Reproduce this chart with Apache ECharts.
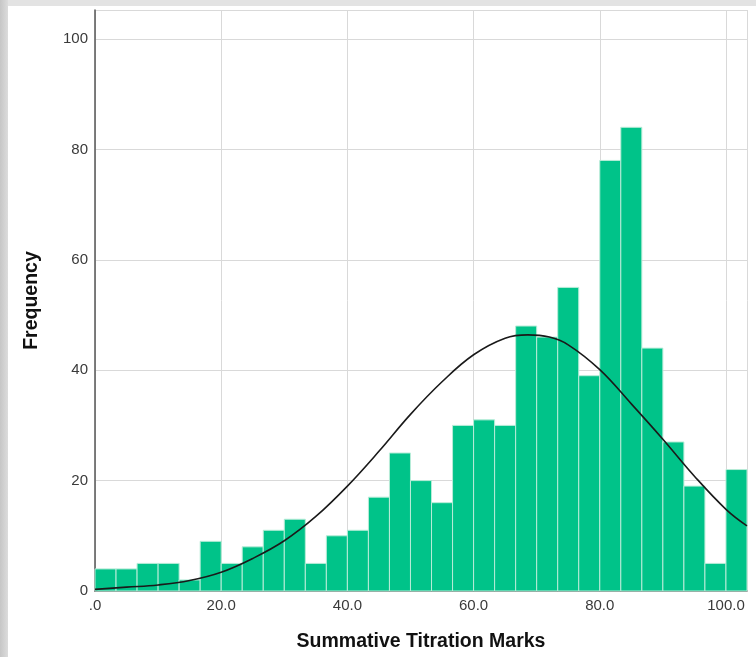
<!DOCTYPE html>
<html>
<head>
<meta charset="utf-8">
<script src="https://cdn.jsdelivr.net/npm/echarts@6/dist/echarts.min.js"></script>
<style>
  html, body { margin: 0; padding: 0; width: 756px; height: 657px; overflow: hidden; background: #e3e3e3; }
  #leftStrip { position: absolute; left: 0; top: 0; width: 8px; height: 657px; background: linear-gradient(to right, #c6c6c6, #dcdcdc); }
  #chart { position: absolute; left: 8px; top: 6px; width: 748px; height: 651px; background: #ffffff; }
</style>
</head>
<body>
<div id="leftStrip"></div>
<div id="chart"></div>
<script>
// Histogram: 31 bins of width 10/3 starting at 0
const binWidth = 10 / 3;
const frequencies = [4, 4, 5, 5, 2, 9, 5, 8, 11, 13, 5, 10, 11, 17, 25, 20, 16, 30, 31, 30, 48, 46, 55, 39, 78, 84, 44, 27, 19, 5, 22];
// Normal curve points
const curveX = [0, 5, 10, 15, 20, 25, 30, 35, 40, 45, 50, 55, 60, 65, 68.6, 72, 75, 80, 85, 90, 95, 100, 103.33];
const curveY = [0.3, 0.7, 1.1, 1.9, 3.4, 5.9, 9.1, 13.5, 19.0, 25.3, 32.0, 37.9, 42.8, 45.8, 46.4, 46.0, 44.6, 40.1, 33.9, 27.5, 20.8, 14.8, 11.8];
const xTicks = [0, 20, 40, 60, 80, 100];
const yTicks = [0, 20, 40, 60, 80, 100];

const histData = frequencies.map((f, i) => [i * binWidth, (i + 1) * binWidth, f]);
const curveData = curveX.map((x, i) => [x, curveY[i]]);
const xMax = frequencies.length * binWidth;

const chart = echarts.init(document.getElementById('chart'), null, { renderer: 'canvas' });
const labelFont = { fontFamily: 'Liberation Sans, Arial, sans-serif', fontSize: 15, color: '#3a3a3a' };
const titleFont = { fontFamily: 'Liberation Sans, Arial, sans-serif', fontSize: 19.5, fontWeight: 'bold', color: '#111111' };

chart.setOption({
  backgroundColor: '#ffffff',
  animation: false,
  grid: { left: 87, right: 9, top: 4, bottom: 66, containLabel: false, outerBoundsMode: 'none' },
  xAxis: {
    type: 'value',
    min: 0,
    max: xMax,
    interval: 20,
    name: 'Summative Titration Marks',
    nameLocation: 'middle',
    nameGap: 41,
    nameTextStyle: titleFont,
    axisLine: { show: true, onZero: false, lineStyle: { color: '#555555', width: 1.5 } },
    axisTick: { show: false },
    axisLabel: Object.assign({
      margin: 7,
      showMaxLabel: false,
      formatter: v => xTicks.indexOf(v) >= 0 ? (v === 0 ? '.0' : v.toFixed(1)) : ''
    }, labelFont),
    splitLine: { show: true, lineStyle: { color: '#d9d9d9', width: 1 } }
  },
  yAxis: {
    type: 'value',
    min: 0,
    max: 105.25,
    interval: 20,
    name: 'Frequency',
    nameLocation: 'middle',
    nameGap: 53,
    nameRotate: 90,
    nameTextStyle: titleFont,
    axisLine: { show: true, lineStyle: { color: '#555555', width: 1.5 } },
    axisTick: { show: false },
    axisLabel: Object.assign({
      margin: 7,
      showMaxLabel: false,
      formatter: v => yTicks.indexOf(v) >= 0 ? String(v) : ''
    }, labelFont),
    splitLine: { show: true, lineStyle: { color: '#d9d9d9', width: 1 } }
  },
  series: [
    {
      type: 'custom',
      data: histData,
      encode: { x: [0, 1], y: 2 },
      renderItem: function (params, api) {
        const p0 = api.coord([api.value(0), api.value(2)]);
        const p1 = api.coord([api.value(1), 0]);
        return {
          type: 'rect',
          shape: { x: p0[0], y: p0[1], width: p1[0] - p0[0], height: p1[1] - p0[1] },
          style: { fill: '#00c389', stroke: '#b8ecd8', lineWidth: 1 }
        };
      },
      z: 2
    },
    {
      type: 'line',
      data: curveData,
      smooth: 0.4,
      showSymbol: false,
      lineStyle: { color: '#1a1a1a', width: 1.6 },
      z: 3
    }
  ]
});
</script>
</body>
</html>
